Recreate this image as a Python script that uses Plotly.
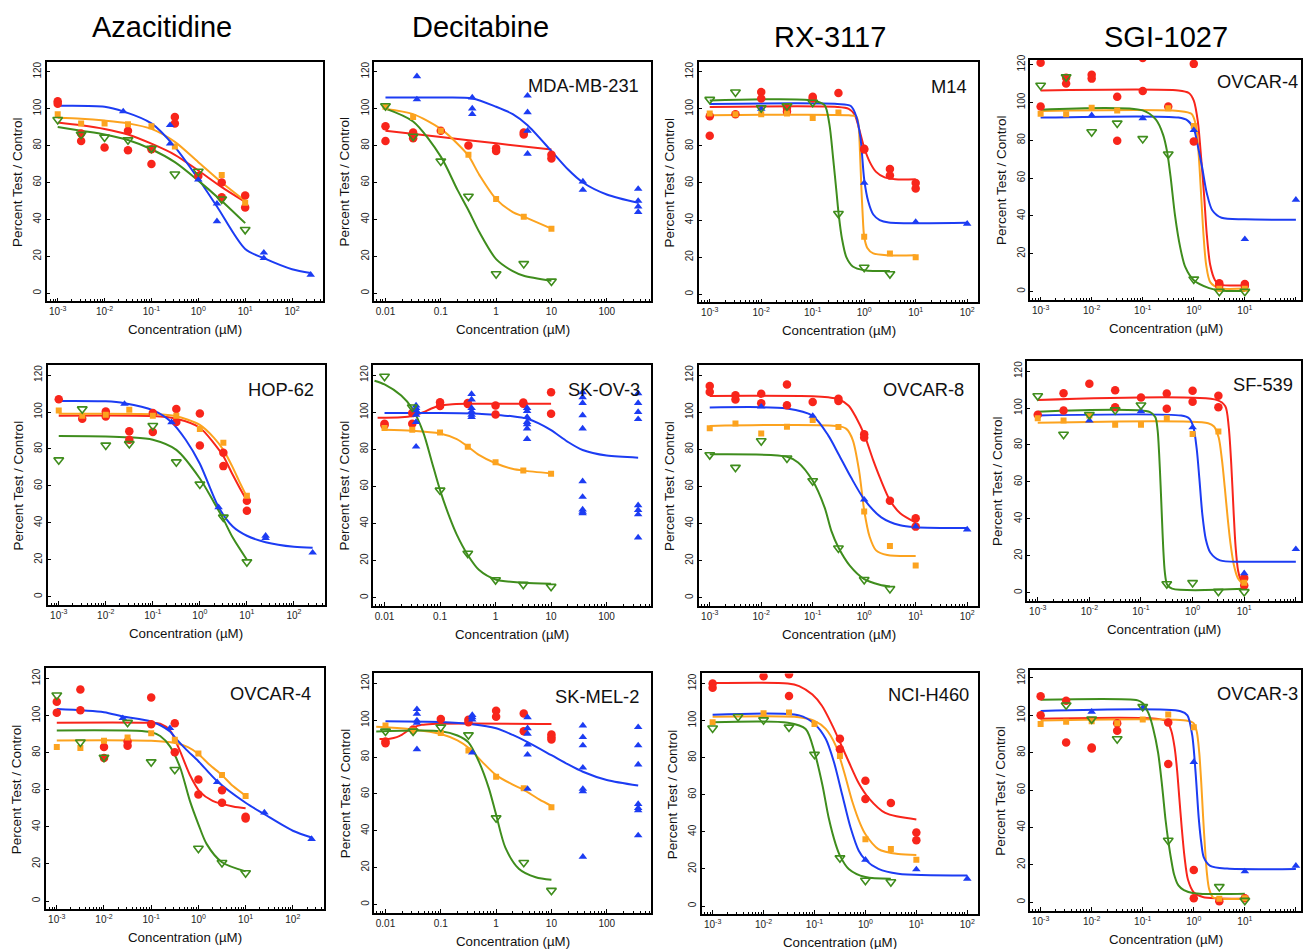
import plotly.graph_objects as go

# ------------------------------------------------------------------ data
# Row 1 ---------------------------------------------------------------
# p11 : Azacitidine (top, unlabelled)
p11_red_x = [0.001, 0.001, 0.00316, 0.00316, 0.01, 0.0316, 0.0316, 0.1, 0.1, 0.316, 0.316, 1, 3.16, 3.16, 10, 10]
p11_red_y = [104, 102.7, 82.5, 86.5, 79, 88, 77.5, 70, 78, 95.5, 92, 63.5, 52, 60, 53, 46.5]
p11_red_cx = [0.001, 0.00316, 0.01, 0.0316, 0.1, 0.316, 1, 3.16, 10]
p11_red_cy = [92.5, 91, 89, 86, 81, 75, 66.5, 57.5, 49.5]
p11_orange_x = [0.001, 0.00316, 0.01, 0.0316, 0.1, 0.316, 3.16, 10]
p11_orange_y = [97, 92, 92, 91.5, 90.5, 79.5, 64, 49]
p11_orange_cx = [0.001, 0.00316, 0.01, 0.0316, 0.1, 0.316, 1, 3.16, 10]
p11_orange_cy = [95, 94.5, 93.5, 92, 89, 82, 71, 60, 50]
p11_blue_x = [0.025, 0.25, 0.25, 1, 2.5, 2.5, 25, 25, 250]
p11_blue_y = [98.5, 91, 81, 61.5, 48.5, 39, 22, 19, 10]
p11_blue_cx = [0.001, 0.01, 0.025, 0.1, 0.3, 1, 2.5, 10, 25, 100, 250]
p11_blue_cy = [101.5, 101, 98.5, 92, 80, 62, 47, 24, 19, 13, 11]
p11_green_x = [0.001, 0.00316, 0.01, 0.0316, 0.1, 0.316, 1, 3.16, 10]
p11_green_y = [94, 86, 84.5, 83, 78.5, 64.5, 66, 51, 34.5]
p11_green_cx = [0.001, 0.00316, 0.01, 0.0316, 0.1, 0.316, 1, 3.16, 10]
p11_green_cy = [90, 88, 86, 83, 78, 71, 61, 50, 38]

# p12 : Decitabine, MDA-MB-231
p12_red_x = [0.01, 0.01, 0.0316, 0.0316, 0.0316, 0.1, 0.316, 1, 1, 3.16, 3.16, 10, 10]
p12_red_y = [90.4, 82.5, 87, 85.5, 84, 88, 80, 78.5, 77, 87, 86, 75, 73]
p12_red_cx = [0.01, 0.1, 1, 10]
p12_red_cy = [88, 84.6, 81.2, 77.8]
p12_orange_x = [0.01, 0.0316, 0.1, 0.316, 1, 3.16, 10]
p12_orange_y = [101, 95.5, 88, 75, 51, 41.5, 35]
p12_orange_cx = [0.01, 0.0316, 0.1, 0.2, 0.316, 0.5, 1, 2, 3.16, 10]
p12_orange_cy = [99.8, 97, 89, 81, 74.5, 64, 51, 44, 41.5, 35]
p12_blue_x = [0.037, 0.037, 0.37, 0.37, 0.37, 3.7, 3.7, 3.7, 3.7, 37, 37, 370, 370, 370, 370]
p12_blue_y = [117.5, 105, 106, 100, 97, 107, 98, 88, 75.5, 60.5, 56, 56.5, 50, 47, 44]
p12_blue_cx = [0.01, 0.1, 0.37, 1, 2, 3.7, 10, 20, 37, 100, 370]
p12_blue_cy = [106, 106, 105.5, 101, 97, 91, 77, 67, 60, 53.5, 49]
p12_green_x = [0.01, 0.0316, 0.1, 0.316, 1, 3.16, 10]
p12_green_y = [101.5, 85, 71.5, 52.5, 10.5, 16, 6.5]
p12_green_cx = [0.01, 0.0316, 0.1, 0.2, 0.316, 0.5, 1, 2, 3.16, 10]
p12_green_cy = [100, 93, 74, 56, 45, 33, 18.5, 12, 9.5, 6.8]

# p13 : RX-3117, M14
p13_red_x = [0.001, 0.001, 0.00316, 0.01, 0.01, 0.0316, 0.0316, 0.1, 0.1, 0.316, 1, 1, 3.16, 3.16, 10, 10]
p13_red_y = [96, 85.5, 97, 109, 105.5, 100.5, 98.5, 106.5, 105.5, 108.5, 78.5, 78, 67.5, 64, 60, 57]
p13_red_cx = [0.001, 0.3, 0.5, 0.65, 0.8, 1, 1.3, 1.7, 2.5, 4, 10]
p13_red_cy = [101, 101, 100, 97, 89, 79, 71, 66, 63, 62, 62]
p13_orange_x = [0.001, 0.00316, 0.01, 0.0316, 0.1, 0.316, 1, 3.16, 10]
p13_orange_y = [97.5, 97, 97, 97.5, 95, 98, 31, 22, 20]
p13_orange_cx = [0.001, 0.5, 0.7, 0.77, 0.83, 0.88, 0.93, 1, 1.15, 1.5, 3, 10]
p13_orange_cy = [96.5, 96.5, 95.8, 92, 76, 58, 44, 31, 25, 22, 21, 21]
p13_blue_x = [0.01, 1, 10, 100]
p13_blue_y = [100, 60, 39, 38]
p13_blue_cx = [0.001, 0.3, 0.55, 0.7, 0.85, 1, 1.2, 1.5, 2, 3, 100]
p13_blue_cy = [102.6, 102.6, 101.5, 96, 84, 62, 50, 43, 40, 38.7, 38.5]
p13_green_x = [0.001, 0.00316, 0.01, 0.0316, 0.1, 0.316, 1, 3.16]
p13_green_y = [105, 109, 100.5, 101.5, 103.5, 43.5, 14.5, 11]
p13_green_cx = [0.001, 0.1, 0.17, 0.21, 0.25, 0.29, 0.32, 0.37, 0.45, 0.6, 1, 3.16]
p13_green_cy = [104.5, 104.5, 102, 92, 73, 55, 43, 30, 20, 15, 13, 12.5]

# p14 : SGI-1027, OVCAR-4
p14_red_x = [0.001, 0.001, 0.00316, 0.00316, 0.01, 0.01, 0.0316, 0.0316, 0.1, 0.1, 0.316, 1, 1, 3.16, 3.16, 10, 10]
p14_red_y = [121, 97.8, 113, 110, 114.7, 112.6, 103, 79.7, 123.5, 106, 97.8, 120.4, 79.4, 4.4, 3, 4, 3]
p14_red_cx = [0.001, 0.5, 0.8, 1.0, 1.2, 1.4, 1.6, 1.8, 2.1, 2.6, 3.16, 10]
p14_red_cy = [106.3, 106.3, 105, 101, 90, 70, 50, 30, 14, 6, 3.8, 3.2]
p14_orange_x = [0.001, 0.00316, 0.01, 0.0316, 0.316, 1, 3.16, 10]
p14_orange_y = [94, 93.7, 97.2, 95.8, 96.9, 87.6, 1.5, 1.5]
p14_orange_cx = [0.001, 0.5, 0.9, 1.1, 1.25, 1.4, 1.55, 1.75, 2.1, 3.16, 10]
p14_orange_cy = [95.5, 95.5, 94, 88, 72, 50, 30, 14, 5, 1.8, 1.6]
p14_blue_x = [0.01, 0.1, 1, 10, 100]
p14_blue_y = [93.2, 91.6, 85.3, 27.7, 48.5]
p14_blue_cx = [0.001, 0.5, 0.75, 1.0, 1.2, 1.45, 1.8, 2.3, 3.5, 10, 100]
p14_blue_cy = [92, 92, 90.5, 86, 77, 66, 52, 43, 39, 38.2, 38]
p14_green_x = [0.001, 0.00316, 0.01, 0.0316, 0.1, 0.316, 1, 3.16, 10]
p14_green_y = [109, 113.5, 84.4, 89, 80.8, 72.7, 6.5, 0, 0]
p14_green_cx = [0.001, 0.1, 0.18, 0.25, 0.3, 0.35, 0.43, 0.54, 0.68, 1, 2, 3.16, 10]
p14_green_cy = [96.2, 95.8, 91, 83, 74, 61, 40, 23.6, 13, 6, 1.8, 0.6, 0.3]

# Row 2 ---------------------------------------------------------------
# p21 : Azacitidine, HOP-62
p21_red_x = [0.001, 0.00316, 0.01, 0.01, 0.0316, 0.0316, 0.1, 0.1, 0.316, 0.316, 1, 1, 3.16, 3.16, 10, 10]
p21_red_y = [106.9, 96.4, 100.3, 97.6, 89.6, 85, 99.4, 89.2, 101.6, 94.6, 99.2, 81.9, 78, 70.7, 52, 46.6]
p21_red_cx = [0.001, 0.1, 0.3, 1, 2, 3.16, 5, 7, 10]
p21_red_cy = [98, 97.8, 96.5, 91.5, 83, 76, 66, 59, 52]
p21_orange_x = [0.001, 0.00316, 0.01, 0.0316, 0.1, 0.316, 1, 3.16, 10]
p21_orange_y = [100.8, 98, 98.5, 101.2, 98, 98, 90.8, 83.3, 54.6]
p21_orange_cx = [0.001, 0.1, 0.3, 1, 2, 3.16, 5, 7, 10]
p21_orange_cy = [99, 98.8, 97.8, 93, 86, 79.5, 70, 62, 54]
p21_blue_x = [0.025, 0.25, 2.5, 25, 25, 250]
p21_blue_y = [104.4, 94.4, 48.4, 33, 31.7, 23.8]
p21_blue_cx = [0.001, 0.01, 0.025, 0.1, 0.25, 0.5, 1, 2.5, 5, 10, 25, 100, 250]
p21_blue_cy = [106, 105.8, 104.8, 101, 94.5, 85, 72, 48.5, 38, 33, 29.5, 27, 26.5]
p21_green_x = [0.001, 0.00316, 0.01, 0.0316, 0.1, 0.316, 1, 3.16, 10]
p21_green_y = [74, 101.6, 82, 82.8, 92.6, 72.9, 60.9, 43, 18.8]
p21_green_cx = [0.001, 0.01, 0.0316, 0.1, 0.316, 1, 2, 3.16, 5, 10]
p21_green_cy = [87, 86.8, 86.3, 85, 79.5, 64, 51, 42, 32, 20]

# p22 : Decitabine, SK-OV-3
p22_red_x = [0.01, 0.01, 0.0316, 0.0316, 0.1, 0.1, 0.316, 0.316, 1, 1, 3.16, 3.16, 10, 10]
p22_red_y = [93.8, 93, 99.5, 93.8, 105.4, 103.3, 104.9, 104.4, 103.6, 98.8, 105.2, 104.5, 110.7, 99.2]
p22_red_cx = [0.0075, 0.02, 0.0316, 0.05, 0.07, 0.1, 0.15, 0.3, 10]
p22_red_cy = [97, 97.3, 98, 100, 102, 103.5, 104.2, 104.5, 104.5]
p22_orange_x = [0.01, 0.0316, 0.1, 0.316, 1, 3.16, 10]
p22_orange_y = [91.5, 90.6, 89, 81.4, 73, 68.5, 66.8]
p22_orange_cx = [0.01, 0.0316, 0.1, 0.2, 0.316, 0.5, 1, 2, 3.16, 10]
p22_orange_cy = [90.5, 90, 88.5, 85.5, 81.5, 77, 72.5, 69.5, 68.5, 67]
p22_blue_x = ([0.037] * 6 + [0.37] * 6 + [3.7] * 7 + [37] * 10 + [370] * 8)
p22_blue_y = [103.6, 102.2, 101, 98.6, 94.7, 81.4,
              109.8, 106.8, 102.2, 100.4, 98.6, 97.4,
              102.2, 100.6, 97.4, 94.7, 93.5, 91.2, 85.5,
              110.7, 108, 104.9, 98.3, 91.2, 62.7, 54.3, 47.5, 46.3, 45.4,
              110.2, 104.9, 100.1, 96.2, 49.8, 47.2, 44.9, 32.4]
p22_blue_cx = [0.01, 0.1, 0.5, 1, 2, 3.7, 6, 10, 20, 37, 100, 370]
p22_blue_cy = [99.5, 99.5, 99.2, 98.6, 97.8, 96.5, 94, 90.3, 84, 79.6, 76.6, 75.5]
p22_green_x = [0.01, 0.0316, 0.1, 0.316, 1, 3.16, 10]
p22_green_y = [119.3, 102.7, 57.9, 23.9, 9.6, 7.1, 6]
p22_green_cx = [0.0066, 0.01, 0.02, 0.0316, 0.05, 0.07, 0.1, 0.15, 0.2, 0.316, 0.5, 1, 3.16, 10]
p22_green_cy = [117, 115, 109, 102, 89, 74, 58, 43, 34, 23, 15, 9.8, 8, 7.5]

# p23 : RX-3117, OVCAR-8
p23_red_x = [0.001, 0.001, 0.00316, 0.00316, 0.01, 0.01, 0.0316, 0.0316, 0.1, 0.316, 0.316, 1, 1, 3.16, 10, 10]
p23_red_y = [114.1, 110.9, 109.1, 106.9, 110, 104.8, 115, 103.7, 105.5, 107.3, 106, 88.1, 86.3, 52.3, 42.8, 38.3]
p23_red_cx = [0.001, 0.1, 0.2, 0.316, 0.5, 0.7, 1, 1.5, 2, 3.16, 5, 10]
p23_red_cy = [108.8, 108.6, 108, 107, 103.5, 97, 88, 74, 65, 52.5, 45.5, 40.5]
p23_orange_x = [0.001, 0.00316, 0.01, 0.0316, 0.1, 0.316, 1, 3.16, 10]
p23_orange_y = [91.3, 93.9, 88.5, 92.2, 95.8, 92, 46.4, 27.8, 17.4]
p23_orange_cx = [0.001, 0.316, 0.45, 0.6, 0.8, 1, 1.27, 1.7, 2.8, 10]
p23_orange_cy = [92.6, 92.5, 91, 85, 68, 47, 33, 25.5, 23, 22.5]
p23_blue_x = [0.01, 0.1, 1, 10, 100]
p23_blue_y = [103, 98, 52.8, 38.3, 36.7]
p23_blue_cx = [0.001, 0.0316, 0.1, 0.2, 0.316, 0.55, 1, 2.15, 5, 10, 100]
p23_blue_cy = [102.5, 102, 98, 87.5, 77.5, 65, 53, 43.3, 39, 38, 37.5]
p23_green_x = [0.001, 0.00316, 0.01, 0.0316, 0.1, 0.316, 1, 3.16]
p23_green_y = [77, 70.2, 84.5, 75.2, 63, 26.7, 9.7, 4.8]
p23_green_cx = [0.001, 0.0316, 0.052, 0.1, 0.17, 0.23, 0.316, 0.52, 1, 2, 3.16]
p23_green_cy = [77.3, 76, 72.9, 63, 48.7, 36, 27, 17.4, 10, 7, 6]

# p24 : SGI-1027, SF-539
p24_red_x = [0.001, 0.00316, 0.00316, 0.01, 0.0316, 0.0316, 0.1, 0.316, 0.316, 1, 1, 3.16, 3.16, 10, 10]
p24_red_y = [96.3, 108, 98.6, 113.2, 109.6, 100.4, 105.7, 107.9, 99.6, 109.3, 103.4, 106.6, 100.4, 8, 3.9]
p24_red_cx = [0.001, 3, 4.3, 5, 5.6, 6.2, 6.8, 7.6, 8.5, 10]
p24_red_cy = [104.3, 104.3, 101, 90, 70, 45, 25, 12, 7, 4]
p24_orange_x = [0.001, 0.00316, 0.01, 0.0316, 0.1, 0.316, 1, 3.16, 10]
p24_orange_y = [94.5, 93.2, 95.9, 91, 91, 94.5, 86, 87.3, 5.4]
p24_orange_cx = [0.001, 2, 2.6, 3.2, 3.7, 4.2, 4.8, 5.4, 6.3, 7.5, 10]
p24_orange_cy = [92, 91.8, 90, 84, 72, 57, 40, 27, 15, 8, 4]
p24_blue_x = [0.01, 0.1, 1, 10, 100]
p24_blue_y = [93.2, 98.2, 89.5, 10.5, 23.6]
p24_blue_cx = [0.001, 0.6, 0.85, 1.03, 1.2, 1.35, 1.55, 1.8, 2.2, 3.4, 10, 100]
p24_blue_cy = [96, 95.9, 94.5, 90, 78, 62, 42, 29, 21.8, 17.5, 16.8, 16.8]
p24_green_x = [0.001, 0.00316, 0.01, 0.0316, 0.1, 0.316, 1, 3.16, 10]
p24_green_y = [106.6, 85.7, 96.4, 98.9, 101.6, 4.8, 5.4, 0.7, 0.5]
p24_green_cx = [0.001, 0.15, 0.19, 0.21, 0.225, 0.24, 0.255, 0.27, 0.29, 0.32, 0.4, 10]
p24_green_cy = [98, 97.8, 95, 88, 75, 58, 40, 24, 11, 4.5, 2.2, 2.1]

# Row 3 ---------------------------------------------------------------
# p31 : Azacitidine, OVCAR-4
p31_red_x = [0.001, 0.001, 0.00316, 0.00316, 0.01, 0.01, 0.0316, 0.0316, 0.1, 0.1, 0.316, 0.316, 1, 1, 3.16, 3.16, 10, 10]
p31_red_y = [107.5, 101.6, 114.1, 102.9, 83, 77.1, 86, 83.8, 109.8, 95.4, 95.9, 80.2, 65.5, 57.5, 59.8, 53, 45.5, 44.5]
p31_red_cx = [0.001, 0.1, 0.155, 0.25, 0.41, 0.66, 1.07, 2, 5.4, 10]
p31_red_cy = [96.2, 96.1, 95.6, 92, 80.7, 68, 59, 54, 51, 50]
p31_orange_x = [0.001, 0.00316, 0.01, 0.0316, 0.1, 0.316, 1, 3.16, 10]
p31_orange_y = [83, 82.5, 86.4, 88.2, 90.5, 87, 79.5, 68, 56.6]
p31_orange_cx = [0.001, 0.1, 0.316, 0.6, 1, 1.7, 3.16, 5.4, 10]
p31_orange_cy = [86.6, 86.4, 85.2, 83, 79.3, 73.6, 67.9, 62, 56.8]
p31_blue_x = [0.025, 0.25, 2.5, 25, 250]
p31_blue_y = [98.6, 93.2, 64.1, 47.7, 33.4]
p31_blue_cx = [0.001, 0.01, 0.025, 0.1, 0.25, 0.35, 0.56, 1, 2.5, 10, 25, 100, 250]
p31_blue_cy = [103.5, 101.8, 99.5, 96.8, 91.4, 87, 81.5, 75.4, 64.6, 53, 46.8, 37.9, 34.3]
p31_green_x = [0.001, 0.00316, 0.01, 0.0316, 0.1, 0.316, 1, 3.16, 10]
p31_green_y = [111, 85.7, 77.5, 96.25, 75, 70.9, 28.4, 20.7, 15.2]
p31_green_cx = [0.001, 0.05, 0.1, 0.155, 0.25, 0.41, 0.66, 1, 1.5, 3.16, 10]
p31_green_cy = [92, 91.8, 91, 89, 83.4, 72, 54, 41.4, 30.7, 20.9, 16]

# p32 : Decitabine, SK-MEL-2
p32_red_x = [0.01, 0.01, 0.0316, 0.1, 0.316, 0.316, 1, 1, 3.16, 3.16, 10, 10, 10]
p32_red_y = [88.5, 87.5, 94.9, 100.7, 100.3, 98.9, 105.1, 101.9, 103.7, 94, 92.2, 90.8, 89.5]
p32_red_cx = [0.0078, 0.012, 0.016, 0.02, 0.025, 0.0316, 0.045, 0.07, 10]
p32_red_cy = [89.8, 90, 90.8, 92.2, 94.2, 96, 97.5, 98, 98]
p32_orange_x = [0.01, 0.0316, 0.1, 0.316, 1, 3.16, 10]
p32_orange_y = [97.1, 94.4, 93, 83.6, 69.3, 63, 52.7]
p32_orange_cx = [0.0068, 0.01, 0.0316, 0.1, 0.2, 0.316, 0.56, 1, 2, 3.16, 6, 10]
p32_orange_cy = [96.5, 96.2, 95, 92.5, 89, 85, 77.4, 70.2, 65, 62.2, 57, 53.5]
p32_blue_x = ([0.037] * 5 + [0.37] * 4 + [3.7] * 6 + [37] * 7 + [370] * 7)
p32_blue_y = [106, 103.4, 99.8, 98.5, 84.2,
              102.8, 101.6, 100.3, 82.4,
              101.6, 95.6, 92.6, 86.7, 81.3, 62.7,
              97.1, 90.8, 86.3, 74.2, 62.7, 61.3, 25.8,
              96.2, 86.3, 75.9, 54.5, 52.3, 51, 37.4]
p32_blue_cx = [0.01, 0.1, 0.37, 1, 2, 3.7, 10, 20, 37, 100, 370]
p32_blue_cy = [99.4, 99, 97.8, 95.6, 92, 88.1, 81, 76, 72, 67.5, 64.5]
p32_green_x = [0.01, 0.0316, 0.1, 0.316, 1, 3.16, 10]
p32_green_y = [94, 94, 96.2, 92, 46.9, 22.7, 7.5]
p32_green_cx = [0.0068, 0.1, 0.2, 0.316, 0.49, 0.74, 1, 1.47, 2.6, 5.2, 10]
p32_green_cy = [93.9, 94, 91.7, 88, 77.4, 63, 48.7, 30.8, 19.2, 14.7, 13.3]

# p33 : RX-3117, NCI-H460
p33_red_x = [0.001, 0.001, 0.01, 0.0316, 0.0316, 0.316, 0.316, 1, 1, 3.16, 10, 10]
p33_red_y = [120, 117.7, 123.9, 125, 113.3, 90.2, 84.5, 67.6, 57.7, 55.6, 39.6, 35.5]
p33_red_cx = [0.001, 0.03, 0.05, 0.091, 0.14, 0.225, 0.316, 0.47, 0.74, 1.16, 2.45, 10]
p33_red_cy = [120.2, 120, 118.6, 114, 108, 97.3, 88.4, 77.8, 66.2, 58.2, 50.2, 46.7]
p33_orange_x = [0.001, 0.01, 0.0316, 0.1, 0.316, 1, 3.16, 10]
p33_orange_y = [99.1, 103.9, 104.4, 98.2, 80.9, 36, 30.7, 25]
p33_orange_cx = [0.001, 0.05, 0.1, 0.166, 0.26, 0.38, 0.55, 0.8, 1, 1.8, 4.4, 10]
p33_orange_cy = [102, 101.8, 99.8, 95.5, 86.6, 72.4, 56.5, 44, 38.7, 30.7, 28, 27.5]
p33_blue_x = [1, 10, 100]
p33_blue_y = [24.9, 19.7, 14.7]
p33_blue_cx = [0.001, 0.05, 0.1, 0.166, 0.24, 0.35, 0.51, 0.74, 1, 1.8, 4.4, 100]
p33_blue_cy = [103.1, 102.8, 98.2, 90.2, 77.8, 60, 42.3, 29.8, 24.9, 20, 17.4, 16.5]
p33_green_x = [0.001, 0.00316, 0.01, 0.0316, 0.1, 0.316, 1, 3.16]
p33_green_y = [95.9, 102.1, 100.3, 96.4, 81.7, 25.9, 13.8, 13]
p33_green_cx = [0.001, 0.03, 0.067, 0.1, 0.143, 0.19, 0.26, 0.316, 0.47, 1, 3.16]
p33_green_cy = [99.1, 98.8, 95.5, 83, 65.3, 47.6, 33.4, 27.2, 20, 15.6, 14.7]

# p34 : SGI-1027, OVCAR-3
p34_red_x = [0.001, 0.001, 0.00316, 0.00316, 0.01, 0.01, 0.0316, 0.0316, 0.316, 0.316, 1, 1, 3.16, 10]
p34_red_y = [110.2, 100.1, 107.8, 85.4, 82.8, 82.2, 95.7, 91.8, 96.1, 73.9, 17.2, 2.1, 0.5, 2.1]
p34_red_cx = [0.001, 0.2, 0.3, 0.36, 0.42, 0.47, 0.52, 0.58, 0.66, 0.77, 1, 1.5, 10]
p34_red_cy = [98.2, 98.1, 96.5, 92, 83, 71, 56, 40, 24, 12, 5.3, 2.8, 1.9]
p34_orange_x = [0.001, 0.00316, 0.01, 0.0316, 0.1, 0.316, 1, 3.16, 10]
p34_orange_y = [95.4, 96.6, 96.9, 95.7, 97.8, 100.5, 93.6, 1.8, 2.1]
p34_orange_cx = [0.001, 0.7, 1, 1.15, 1.28, 1.4, 1.52, 1.65, 1.8, 2.0, 2.4, 3.16, 10]
p34_orange_cy = [97.3, 97.2, 95.7, 91, 80, 64, 46, 30, 16, 7, 2.5, 1.8, 1.8]
p34_blue_x = [0.01, 0.1, 1, 10, 100]
p34_blue_y = [101.9, 104, 75, 16.5, 19.5]
p34_blue_cx = [0.001, 0.55, 0.75, 0.93, 1.08, 1.25, 1.4, 1.57, 2.1, 4.5, 100]
p34_blue_cy = [102.3, 102.2, 100, 89.5, 70, 45, 32, 24, 19.5, 18, 17.8]
p34_green_x = [0.00316, 0.01, 0.0316, 0.1, 0.316, 3.16, 10]
p34_green_y = [105.5, 98, 87.4, 104.6, 33.1, 8.3, 0.9]
p34_green_cx = [0.001, 0.08, 0.1, 0.13, 0.16, 0.2, 0.24, 0.28, 0.316, 0.36, 0.41, 0.5, 0.64, 1, 10]
p34_green_cy = [108.3, 108, 106.5, 101, 93, 80, 62, 44, 33, 23, 15, 9, 6.5, 4.8, 4.5]

# labels / ticks
COL_TITLES = ["Azacitidine", "Decitabine", "RX-3117", "SGI-1027"]
PANEL_LABELS = {"p11": "", "p12": "MDA-MB-231", "p13": "M14", "p14": "OVCAR-4",
                "p21": "HOP-62", "p22": "SK-OV-3", "p23": "OVCAR-8", "p24": "SF-539",
                "p31": "OVCAR-4", "p32": "SK-MEL-2", "p33": "NCI-H460", "p34": "OVCAR-3"}
LOG_TICKS = [0.001, 0.01, 0.1, 1, 10, 100]
LOG_TEXT = ["10<sup>-3</sup>", "10<sup>-2</sup>", "10<sup>-1</sup>", "10<sup>0</sup>", "10<sup>1</sup>", "10<sup>2</sup>"]
DEC_TICKS = [0.01, 0.1, 1, 10, 100]
DEC_TEXT = ["0.01", "0.1", "1", "10", "100"]
Y_TICKS = [0, 20, 40, 60, 80, 100, 120]
X_TITLE = "Concentration (µM)"
Y_TITLE = "Percent Test / Control"

# ------------------------------------------------------------------ layout geometry (pixels)
W, H = 1303, 949
FONT = "Liberation Sans, Arial, Helvetica, sans-serif"
FRAMES = {
    "p11": (47, 323, 57, 298), "p12": (375, 652, 57, 298), "p13": (700, 980, 57, 299), "p14": (1032, 1303, 55, 297),
    "p21": (48, 325, 362, 603), "p22": (374, 652, 362, 604), "p23": (700, 980, 362, 604), "p24": (1029, 1303, 358, 599),
    "p31": (46, 324, 667, 909), "p32": (375, 652, 672, 913), "p33": (703, 980, 672, 914), "p34": (1032, 1303, 669, 911),
}
YRANGES = {"p14": [-4.7, 122.6], "p34": [-4.8, 124.0], "p32": [-4.8, 125.4]}
XRANGES = {1: [-3.23, 2.65], 2: [-2.2, 2.8], 3: [-3.21, 2.22], 4: [-3.2, 2.1]}
LABEL_POS = {"p12": (642, 81), "p13": (970, 82), "p14": (1302, 77), "p21": (316, 387),
             "p22": (643, 387), "p23": (967, 387), "p24": (1297, 382), "p31": (313, 692),
             "p32": (642, 695), "p33": (972, 693), "p34": (1302, 692)}
TITLE_POS = [(162, 22), (481, 22), (831, 32), (1168, 32)]

STYLE = {
    "red": dict(color="#f8251b", symbol="circle", size=8.5),
    "orange": dict(color="#fca31f", symbol="square", size=6),
    "blue": dict(color="#1c3cf3", symbol="triangle-up", size=7.5),
    "green": dict(color="#3f8d1d", symbol="triangle-down-open", size=8.5),
}
ORDER = ["red", "orange", "blue", "green"]


def px2x(px):
    return px / W


def px2y(py):
    return 1 - py / H


fig = go.Figure()
annotations = []
keys = ["p11", "p12", "p13", "p14", "p21", "p22", "p23", "p24", "p31", "p32", "p33", "p34"]
g = globals()

for i, key in enumerate(keys, start=1):
    col = int(key[2])
    left, right, top, bottom = FRAMES[key]
    xa = "x" if i == 1 else f"x{i}"
    ya = "y" if i == 1 else f"y{i}"
    # fitted curves
    for c in ORDER:
        st = STYLE[c]
        fig.add_trace(go.Scatter(
            x=g[f"{key}_{c}_cx"], y=g[f"{key}_{c}_cy"], mode="lines",
            line=dict(color=st["color"], width=2, shape="spline", smoothing=0.8),
            xaxis=xa, yaxis=ya, showlegend=False, hoverinfo="skip"))
    # data points
    for c in ORDER:
        st = STYLE[c]
        mk = dict(color=st["color"], symbol=st["symbol"], size=st["size"])
        if c == "green":
            mk["line"] = dict(color=st["color"], width=1.6)
        fig.add_trace(go.Scatter(
            x=g[f"{key}_{c}_x"], y=g[f"{key}_{c}_y"], mode="markers",
            marker=mk, xaxis=xa, yaxis=ya, showlegend=False))

    xname = "xaxis" if i == 1 else f"xaxis{i}"
    yname = "yaxis" if i == 1 else f"yaxis{i}"
    tv, tt = (DEC_TICKS, DEC_TEXT) if col == 2 else (LOG_TICKS, LOG_TEXT)
    fig.update_layout(**{
        xname: dict(
            type="log", range=XRANGES[col], domain=[px2x(left), min(1.0, px2x(right))],
            anchor=ya, tickmode="array", tickvals=tv, ticktext=tt,
            ticks="inside", ticklen=4, tickwidth=1, tickcolor="black",
            minor=dict(ticks="inside", ticklen=2.5, tickcolor="black", dtick="D1", showgrid=False),
            showline=True, linecolor="black", linewidth=1.6, mirror=True,
            showgrid=False, zeroline=False,
            tickfont=dict(family=FONT, size=10, color="#222")),
        yname: dict(
            range=YRANGES.get(key, [-4.4, 125.4]), domain=[px2y(bottom), px2y(top)],
            anchor=xa, tickmode="array", tickvals=Y_TICKS, tickangle=-90,
            ticks="inside", ticklen=3, tickwidth=1, tickcolor="black",
            showline=True, linecolor="black", linewidth=1.6, mirror=True,
            showgrid=False, zeroline=False,
            tickfont=dict(family=FONT, size=10, color="#222")),
    })
    # axis titles
    annotations.append(dict(
        text=X_TITLE, x=px2x((left + min(right, 1303)) / 2), y=px2y(bottom + 28.5),
        xref="paper", yref="paper", showarrow=False, xanchor="center", yanchor="middle",
        font=dict(family=FONT, size=13.3, color="#111")))
    annotations.append(dict(
        text=Y_TITLE, x=px2x(left - 29.5), y=px2y((top + bottom) / 2),
        xref="paper", yref="paper", showarrow=False, xanchor="center", yanchor="middle",
        textangle=-90, font=dict(family=FONT, size=13.5, color="#111")))
    # panel label
    if PANEL_LABELS[key]:
        lx, ly = LABEL_POS[key]
        annotations.append(dict(
            text=PANEL_LABELS[key], x=px2x(lx), y=px2y(ly),
            xref="paper", yref="paper", showarrow=False, xanchor="right", yanchor="middle",
            font=dict(family=FONT, size=18.3, color="#111")))

for (tx, ty), t in zip(TITLE_POS, COL_TITLES):
    annotations.append(dict(
        text=t, x=px2x(tx), y=px2y(ty), xref="paper", yref="paper", showarrow=False,
        xanchor="center", yanchor="middle", font=dict(family=FONT, size=29, color="#000")))

fig.update_layout(
    width=W, height=H, margin=dict(l=0, r=0, t=0, b=0),
    paper_bgcolor="white", plot_bgcolor="white",
    annotations=annotations, showlegend=False,
    font=dict(family=FONT),
)

fig.write_html(
    "out.html",
    config={"displayModeBar": False},
    post_script="document.body.style.margin='0px';document.body.style.padding='0px';"
                "document.body.style.overflow='hidden';",
)
